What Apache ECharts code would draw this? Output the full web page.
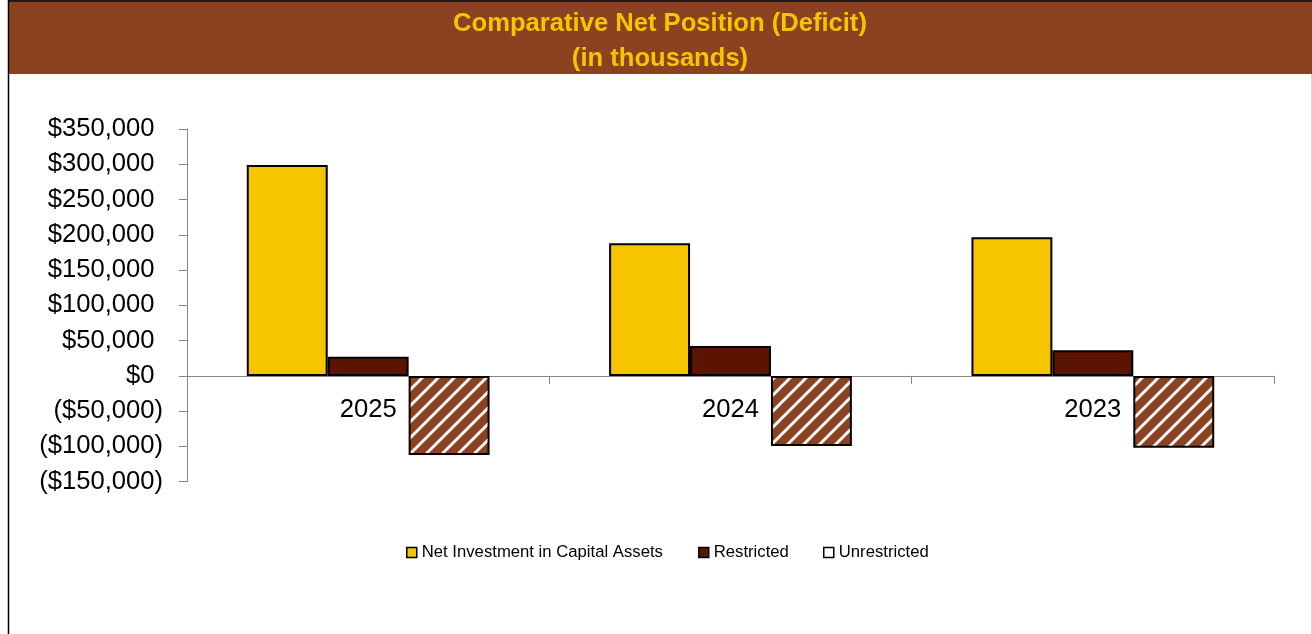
<!DOCTYPE html>
<html>
<head>
<meta charset="utf-8">
<script src="https://cdn.jsdelivr.net/npm/echarts@6/dist/echarts.min.js"></script>
<style>
html,body{margin:0;padding:0;background:#fff;}
#chart{width:1312px;height:634px;}
</style>
</head>
<body>
<div id="chart"></div>
<script>
// ---- data ----
const titleLines = ['Comparative Net Position (Deficit)', '(in thousands)'];
const categories = ['2025', '2024', '2023'];
const seriesNames = ['Net Investment in Capital Assets', 'Restricted', 'Unrestricted'];
const netInvestment = [299000, 188000, 196500];
const restricted = [27200, 42400, 36300];
const unrestricted = [-112100, -99400, -101800];
const yMin = -150000;
const yMax = 350000;
const yStep = 50000;

// ---- styles ----
const FONT = '"Liberation Sans", Arial, sans-serif';
const YELLOW = '#F7C400';
const DARK = '#5A1400';
const BROWN = '#8B4220';

function hatch() {
  const c = document.createElement('canvas');
  c.width = 16; c.height = 16;
  const g = c.getContext('2d');
  g.fillStyle = BROWN;
  g.fillRect(0, 0, 16, 16);
  g.strokeStyle = 'rgba(255,255,255,0.95)';
  g.lineWidth = 3;
  [0, 16, 32].forEach(function (k) {
    g.beginPath();
    g.moveTo(k - 20, 20);
    g.lineTo(k + 20, -20);
    g.stroke();
  });
  return c;
}

function fmt(v) {
  const s = Math.abs(v).toLocaleString('en-US');
  return v < 0 ? '{n|($' + s + ')}' : '{p|$' + s + '}';
}

const chart = echarts.init(document.getElementById('chart'), null, {renderer: 'canvas'});
const legendBase = {
  orient: 'horizontal', top: 544, padding: 0, itemWidth: 10, itemHeight: 10, icon: 'rect',
  selectedMode: false,
  textStyle: {fontFamily: FONT, fontSize: 16.7, color: '#000'},
  itemStyle: {borderColor: '#000', borderWidth: 1.5}
};
const option = {
  backgroundColor: '#fff',
  animation: false,
  graphic: [
    {type: 'rect', shape: {x: 8, y: 0, width: 1304, height: 74}, style: {fill: BROWN}, z: 0},
    {type: 'rect', shape: {x: 8, y: 0, width: 1304, height: 2}, style: {fill: '#1a1a1a'}, z: 1},
    {type: 'line', shape: {x1: 8.5, y1: 0, x2: 8.5, y2: 634}, style: {stroke: '#000', lineWidth: 1.5}, z: 1},
    {type: 'line', shape: {x1: 1311.5, y1: 74, x2: 1311.5, y2: 634}, style: {stroke: '#d9d9d9', lineWidth: 1}, z: 1},
    {type: 'text', x: 660, y: 23.5, z: 2, style: {text: titleLines[0], align: 'center', verticalAlign: 'middle', fontFamily: FONT, fontSize: 25.6, fontWeight: 'bold', fill: YELLOW}},
    {type: 'text', x: 660, y: 58.5, z: 2, style: {text: titleLines[1], align: 'center', verticalAlign: 'middle', fontFamily: FONT, fontSize: 25.6, fontWeight: 'bold', fill: YELLOW}}
  ],
  legend: [
    Object.assign({}, legendBase, {left: 406, data: [{name: seriesNames[0], itemStyle: {color: YELLOW}}]}),
    Object.assign({}, legendBase, {left: 698, data: [{name: seriesNames[1], itemStyle: {color: DARK}}]}),
    Object.assign({}, legendBase, {left: 823, data: [{name: seriesNames[2], itemStyle: {color: '#ffffff'}}]})
  ],
  grid: {left: 187, right: 38, top: 129, bottom: 152.3, containLabel: false},
  xAxis: {
    type: 'category',
    data: categories,
    axisLine: {show: true, onZero: true, lineStyle: {color: '#868686', width: 1}},
    axisTick: {show: true, inside: false, length: 8, alignWithLabel: false, lineStyle: {color: '#868686', width: 1}},
    axisLabel: {margin: -85, fontFamily: FONT, fontSize: 25.6, color: '#000'},
    splitLine: {show: false}
  },
  yAxis: {
    type: 'value',
    min: yMin, max: yMax, interval: yStep,
    axisLine: {show: true, lineStyle: {color: '#868686', width: 1}},
    axisTick: {show: true, inside: false, length: 8, lineStyle: {color: '#868686', width: 1}},
    splitLine: {show: false},
    axisLabel: {
      margin: 24, fontFamily: FONT, fontSize: 25.6, color: '#000',
      formatter: fmt,
      rich: {
        p: {fontFamily: FONT, fontSize: 25.6, color: '#000', padding: [0, 8.5, 0, 0]},
        n: {fontFamily: FONT, fontSize: 25.6, color: '#000'}
      }
    }
  },
  series: [
    {name: seriesNames[0], type: 'bar', data: netInvestment, barGap: '0%', barCategoryGap: '33%',
      itemStyle: {color: YELLOW, borderColor: '#000', borderWidth: 2}},
    {name: seriesNames[1], type: 'bar', data: restricted, barGap: '0%', barCategoryGap: '33%',
      itemStyle: {color: DARK, borderColor: '#000', borderWidth: 2}},
    {name: seriesNames[2], type: 'bar', data: unrestricted, barGap: '0%', barCategoryGap: '33%',
      itemStyle: {color: {image: hatch(), repeat: 'repeat'}, borderColor: '#000', borderWidth: 2}}
  ]
};
chart.setOption(option);
</script>
</body>
</html>
